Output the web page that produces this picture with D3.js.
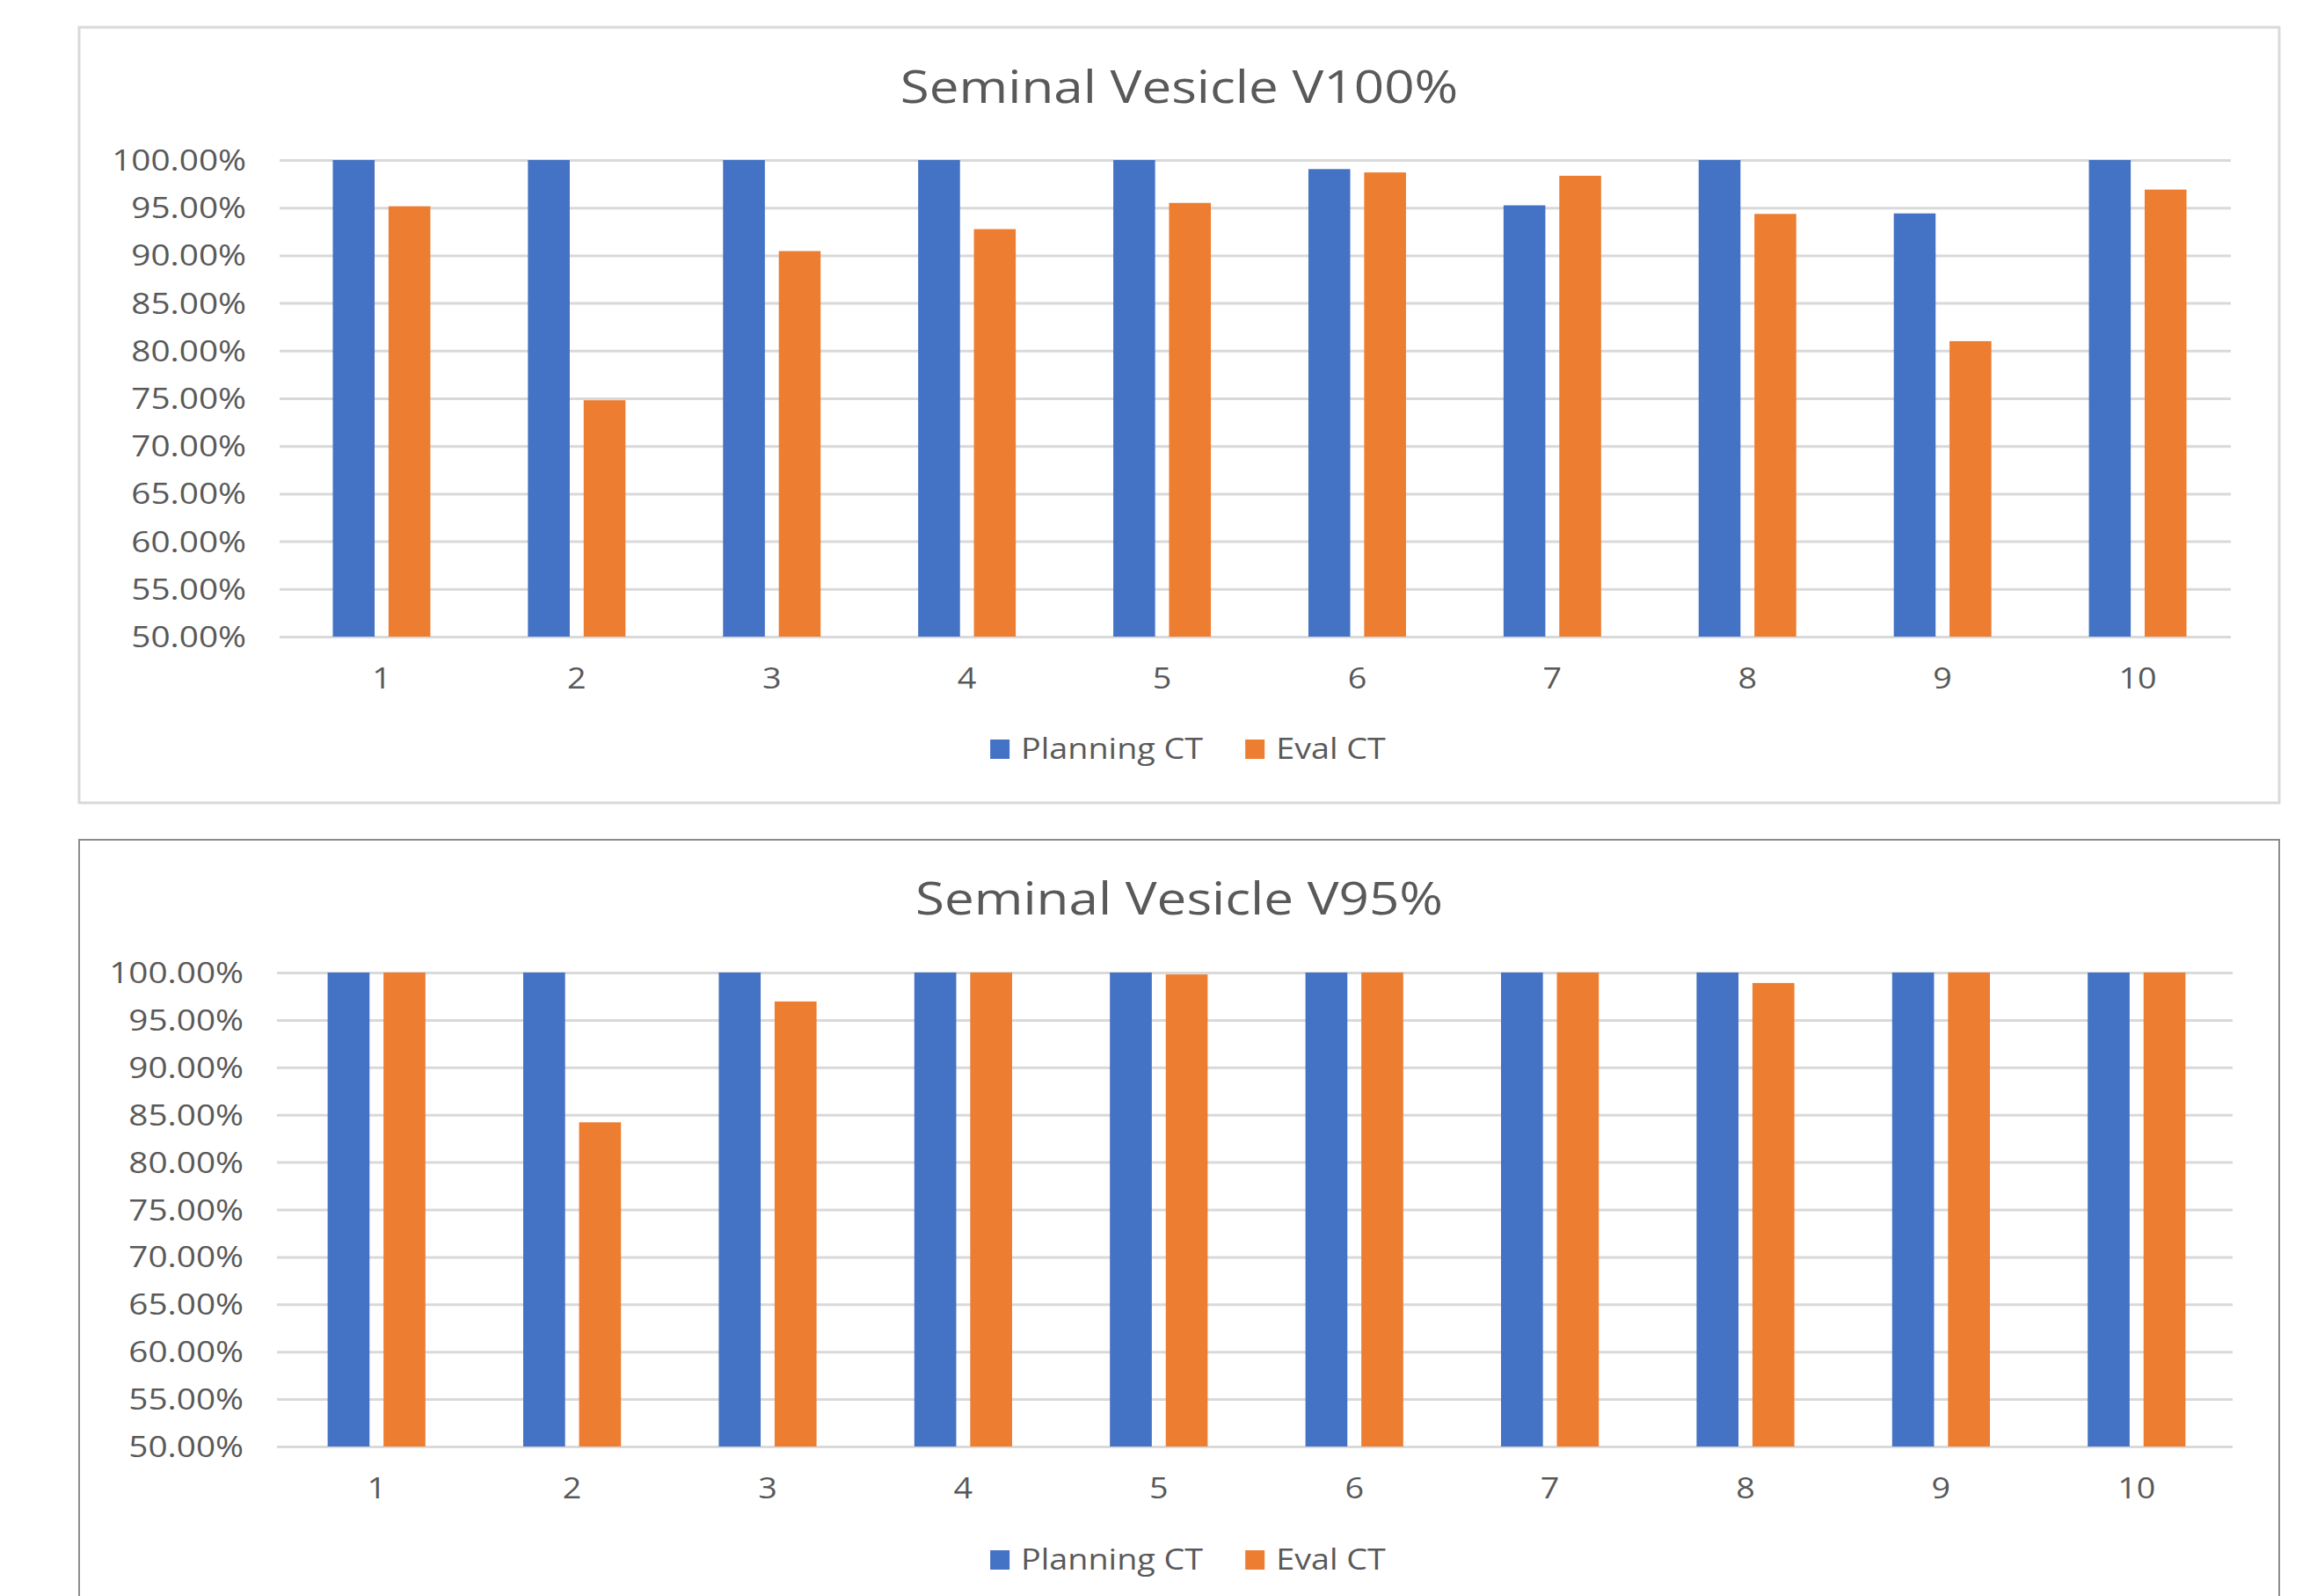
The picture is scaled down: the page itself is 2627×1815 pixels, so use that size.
<!DOCTYPE html>
<html>
<head>
<meta charset="utf-8">
<script src="https://cdn.jsdelivr.net/npm/d3@7"></script>
<style>
  body { margin: 0; background: #fff; }
  text { font-family: "Segoe UI", "Open Sans", sans-serif; fill: #595959; }
</style>
</head>
<body>
<script>
// data
const patients = ['1', '2', '3', '4', '5', '6', '7', '8', '9', '10'];
const seriesNames = ['Planning CT', 'Eval CT'];
const yTicks = [50, 55, 60, 65, 70, 75, 80, 85, 90, 95, 100];

const v100Planning = [100, 100, 100, 100, 100, 99.05, 95.25, 100, 94.4, 100];
const v100Eval = [95.15, 74.8, 90.45, 92.75, 95.5, 98.7, 98.35, 94.35, 81.0, 96.9];

const v95Planning = [100, 100, 100, 100, 100, 100, 100, 100, 100, 100];
const v95Eval = [100, 84.2, 96.95, 100, 99.8, 100, 100, 98.9, 100, 100];

const colors = d3.scaleOrdinal()
    .domain(seriesNames)
    .range(['#4472C4', '#ED7D31']);

const stretch = 1.18; // the picture is a bit wide, text looks stretched

const svg = d3.select('body').append('svg')
    .attr('width', 2627)
    .attr('height', 1815);

function drawChart(title, planning, evalCt, box) {
    const g = svg.append('g');
    const cx = box.x + box.w / 2;

    // chart border
    g.append('rect')
        .attr('x', box.x)
        .attr('y', box.y)
        .attr('width', box.w)
        .attr('height', box.h)
        .attr('fill', '#fff')
        .attr('stroke', box.border)
        .attr('stroke-width', box.borderWidth);

    // title
    g.append('text')
        .attr('transform', `translate(${cx},${box.titleY}) scale(${stretch},1)`)
        .attr('text-anchor', 'middle')
        .style('font-size', '51px')
        .text(title);

    const x0 = d3.scaleBand()
        .domain(patients)
        .range([box.left + box.shift, box.right + box.shift])
        .paddingInner(0.5)
        .paddingOuter(0.25);

    const x1 = d3.scaleBand()
        .domain(seriesNames)
        .range([0, x0.bandwidth()])
        .paddingInner(0.25);

    const y = d3.scaleLinear()
        .domain([50, 100])
        .range([box.bottom, box.top]);

    // y axis with gridlines
    const yAxis = g.append('g')
        .attr('transform', `translate(${box.left},0)`)
        .call(d3.axisLeft(y)
            .tickValues(yTicks)
            .tickSize(-(box.right - box.left))
            .tickFormat(d => d.toFixed(2) + '%'));
    yAxis.select('.domain').remove();
    yAxis.selectAll('line')
        .attr('stroke', '#d9d9d9')
        .attr('stroke-width', 3);
    yAxis.selectAll('text')
        .attr('x', -38 / 1.21)
        .attr('dy', '0.36em')
        .attr('transform', 'scale(1.21,1)')
        .style('font-size', '32px')
        .attr('fill', '#595959');

    // bars
    const rows = patients.map((p, i) => ({ p, vals: [planning[i], evalCt[i]] }));
    const groups = g.selectAll('.grp')
        .data(rows)
        .enter()
        .append('g')
        .attr('class', 'grp')
        .attr('transform', d => `translate(${x0(d.p)},0)`);

    groups.selectAll('rect')
        .data(d => d.vals.map((v, k) => ({ s: seriesNames[k], v })))
        .enter()
        .append('rect')
        .attr('x', d => x1(d.s))
        .attr('y', d => y(d.v))
        .attr('width', x1.bandwidth())
        .attr('height', d => y(50) - y(d.v))
        .attr('fill', d => colors(d.s));

    // x axis labels
    const xAxis = g.append('g')
        .attr('transform', `translate(0,${box.bottom})`)
        .call(d3.axisBottom(x0).tickSize(0).tickPadding(0));
    xAxis.select('.domain').remove();
    xAxis.selectAll('text')
        .attr('y', 0)
        .attr('dy', 0)
        .attr('transform', `translate(0,59) scale(${stretch},1)`)
        .style('font-size', '32px')
        .attr('fill', '#595959');

    // legend, centred a little right of the chart box centre
    const legend = g.append('g');
    const items = legend.selectAll('.legend-item')
        .data(seriesNames)
        .enter()
        .append('g')
        .attr('class', 'legend-item');
    items.append('rect')
        .attr('y', -22)
        .attr('width', 22)
        .attr('height', 22)
        .attr('fill', d => colors(d));
    items.append('text')
        .attr('transform', `translate(35,0) scale(${stretch},1)`)
        .style('font-size', '32px')
        .text(d => d);

    let offset = 0;
    const widths = [];
    items.each(function () {
        const w = 35 + this.querySelector('text').getComputedTextLength() * stretch;
        widths.push(w);
    });
    items.attr('transform', (d, i) => {
        const t = `translate(${offset},0)`;
        offset += widths[i] + 48;
        return t;
    });
    const total = offset - 48;
    legend.attr('transform', `translate(${cx + 10 - total / 2},${box.legendY})`);
}

drawChart('Seminal Vesicle V100%', v100Planning, v100Eval, {
    x: 90, y: 31, w: 2502, h: 882,
    border: '#d9d9d9', borderWidth: 3,
    left: 318, right: 2537, top: 182, bottom: 724, shift: 5,
    titleY: 117, legendY: 863
});

drawChart('Seminal Vesicle V95%', v95Planning, v95Eval, {
    x: 90, y: 955, w: 2502, h: 900,
    border: '#8c8c8c', borderWidth: 2,
    left: 315, right: 2539, top: 1106, bottom: 1645, shift: 2,
    titleY: 1040, legendY: 1785
});
</script>
</body>
</html>
